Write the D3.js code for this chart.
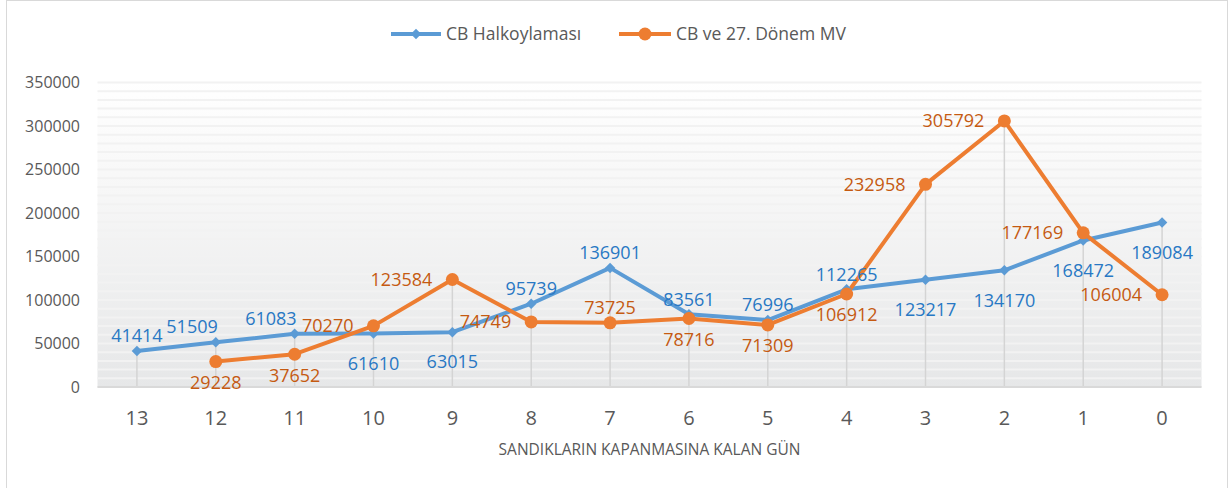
<!DOCTYPE html>
<html>
<head>
<meta charset="utf-8">
<script src="https://cdn.jsdelivr.net/npm/d3@7"></script>
<style>
  html, body { margin: 0; padding: 0; background: #fff; }
  svg { display: block; font-family: 'Open Sans', 'Noto Sans', sans-serif; }
</style>
</head>
<body>
<svg id="chart" width="1229" height="488"></svg>
<script>
// categories: days left until polls close
const days = ['13', '12', '11', '10', '9', '8', '7', '6', '5', '4', '3', '2', '1', '0'];
const cbValues = [41414, 51509, 61083, 61610, 63015, 95739, 136901, 83561, 76996, 112265, 123217, 134170, 168472, 189084];
const mvValues = [null, 29228, 37652, 70270, 123584, 74749, 73725, 78716, 71309, 106912, 232958, 305792, 177169, 106004];
const yTicks = [0, 50000, 100000, 150000, 200000, 250000, 300000, 350000];
const seriesNames = ['CB Halkoylaması', 'CB ve 27. Dönem MV'];

// label placement per point: a = above, al = above-left, b = below, l = left
const cbLabelPos = ['a', 'al', 'al', 'b', 'b', 'a', 'a', 'a', 'a', 'a', 'b', 'b', 'b', 'b'];
const mvLabelPos = [null, 'b', 'b', 'l', 'l', 'l', 'a', 'b', 'b', 'b', 'l', 'l', 'l', 'l'];

const BLUE = '#5b9bd5';
const ORANGE = '#ed7d31';
const BLUE_TXT = '#2878c4';
const ORANGE_TXT = '#c55a11';
const GRAY_TXT = '#595959';

const svg = d3.select('#chart');

// outer frame
svg.append('rect')
    .attr('x', 6.5).attr('y', 0.5)
    .attr('width', 1221).attr('height', 490)
    .attr('fill', '#fff')
    .attr('stroke', '#d9d9d9');

const plot = { left: 97.5, right: 1201.5, top: 82.5, bottom: 387 };

const x = d3.scalePoint()
    .domain(days)
    .range([plot.left, plot.right])
    .padding(0.5);

const y = d3.scaleLinear()
    .domain([0, 350000])
    .range([plot.bottom, plot.top]);

// plot area background gradient
const defs = svg.append('defs');
const grad = defs.append('linearGradient')
    .attr('id', 'bg')
    .attr('x1', 0).attr('y1', 0).attr('x2', 0).attr('y2', 1);
grad.append('stop').attr('offset', '0%').attr('stop-color', '#ffffff');
grad.append('stop').attr('offset', '35%').attr('stop-color', '#f7f7f7');
grad.append('stop').attr('offset', '100%').attr('stop-color', '#e6e7e8');

svg.append('rect')
    .attr('x', plot.left).attr('y', plot.top - 2)
    .attr('width', plot.right - plot.left)
    .attr('height', plot.bottom - plot.top + 2)
    .attr('fill', 'url(#bg)');

// fine gridlines every 10000
svg.append('g')
    .selectAll('line')
    .data(d3.range(0, 350001, 10000))
    .join('line')
    .attr('x1', plot.left).attr('x2', plot.right)
    .attr('y1', d => y(d)).attr('y2', d => y(d))
    .attr('stroke', '#f2f2f2')
    .attr('stroke-width', 2);

// drop lines from highest point
svg.append('g')
    .selectAll('line')
    .data(days)
    .join('line')
    .attr('x1', d => x(d)).attr('x2', d => x(d))
    .attr('y1', (d, i) => y(Math.max(cbValues[i], mvValues[i] || 0)))
    .attr('y2', plot.bottom)
    .attr('stroke', '#d4d4d4')
    .attr('stroke-width', 1.5);

// x axis line
svg.append('line')
    .attr('x1', plot.left).attr('x2', plot.right)
    .attr('y1', plot.bottom).attr('y2', plot.bottom)
    .attr('stroke', '#d9d9d9')
    .attr('stroke-width', 2);

// y axis labels
svg.append('g')
    .selectAll('text')
    .data(yTicks)
    .join('text')
    .attr('x', 80)
    .attr('y', d => y(d))
    .attr('dy', '0.35em')
    .attr('text-anchor', 'end')
    .attr('font-size', 16)
    .attr('fill', GRAY_TXT)
    .text(d => d);

// x axis labels
svg.append('g')
    .selectAll('text')
    .data(days)
    .join('text')
    .attr('x', d => x(d))
    .attr('y', 425)
    .attr('text-anchor', 'middle')
    .attr('font-size', 20)
    .attr('fill', GRAY_TXT)
    .text(d => d);

svg.append('text')
    .attr('x', (plot.left + plot.right) / 2)
    .attr('y', 455)
    .attr('text-anchor', 'middle')
    .attr('font-size', 15.5)
    .attr('fill', GRAY_TXT)
    .text('SANDIKLARIN KAPANMASINA KALAN GÜN');

// lines
const line = d3.line()
    .defined(d => d.v != null)
    .x(d => x(d.day))
    .y(d => y(d.v));

const cbData = days.map((d, i) => ({ day: d, v: cbValues[i], pos: cbLabelPos[i] }));
const mvData = days.map((d, i) => ({ day: d, v: mvValues[i], pos: mvLabelPos[i] }));

svg.append('path')
    .datum(cbData)
    .attr('d', line)
    .attr('fill', 'none')
    .attr('stroke', BLUE)
    .attr('stroke-width', 4)
    .attr('stroke-linejoin', 'round');

svg.append('path')
    .datum(mvData)
    .attr('d', line)
    .attr('fill', 'none')
    .attr('stroke', ORANGE)
    .attr('stroke-width', 4)
    .attr('stroke-linejoin', 'round');

svg.append('g')
    .selectAll('path')
    .data(cbData)
    .join('path')
    .attr('transform', d => `translate(${x(d.day)},${y(d.v)}) rotate(45)`)
    .attr('d', d3.symbol().type(d3.symbolSquare).size(55))
    .attr('fill', BLUE);

svg.append('g')
    .selectAll('circle')
    .data(mvData.filter(d => d.v != null))
    .join('circle')
    .attr('cx', d => x(d.day))
    .attr('cy', d => y(d.v))
    .attr('r', 6.5)
    .attr('fill', ORANGE);

// data labels
function drawLabels(data, color, belowDy) {
    svg.append('g')
        .selectAll('text')
        .data(data.filter(d => d.v != null))
        .join('text')
        .attr('x', d => {
            if (d.pos === 'l') return x(d.day) - 20;
            if (d.pos === 'al') return x(d.day) + 2;
            return x(d.day);
        })
        .attr('y', d => {
            const py = y(d.v);
            if (d.pos === 'a' || d.pos === 'al') return py - 15;
            if (d.pos === 'b') return py + belowDy;
            return py;
        })
        .attr('dy', '0.35em')
        .attr('text-anchor', d => (d.pos === 'l' || d.pos === 'al') ? 'end' : 'middle')
        .attr('font-size', 18)
        .attr('fill', color)
        .text(d => d.v);
}
drawLabels(cbData, BLUE_TXT, 30);
drawLabels(mvData, ORANGE_TXT, 21);

// legend
const legend = svg.append('g');
legend.append('line')
    .attr('x1', 391).attr('x2', 441).attr('y1', 34).attr('y2', 34)
    .attr('stroke', BLUE).attr('stroke-width', 4);
legend.append('path')
    .attr('transform', 'translate(416,34) rotate(45)')
    .attr('d', d3.symbol().type(d3.symbolSquare).size(55))
    .attr('fill', BLUE);
legend.append('text')
    .attr('x', 446).attr('y', 34).attr('dy', '0.35em')
    .attr('font-size', 17.5).attr('fill', GRAY_TXT)
    .text(seriesNames[0]);

legend.append('line')
    .attr('x1', 619).attr('x2', 671).attr('y1', 34).attr('y2', 34)
    .attr('stroke', ORANGE).attr('stroke-width', 4);
legend.append('circle')
    .attr('cx', 645).attr('cy', 34).attr('r', 6.5)
    .attr('fill', ORANGE);
legend.append('text')
    .attr('x', 676).attr('y', 34).attr('dy', '0.35em')
    .attr('font-size', 17.5).attr('fill', GRAY_TXT)
    .text(seriesNames[1]);
</script>
</body>
</html>
